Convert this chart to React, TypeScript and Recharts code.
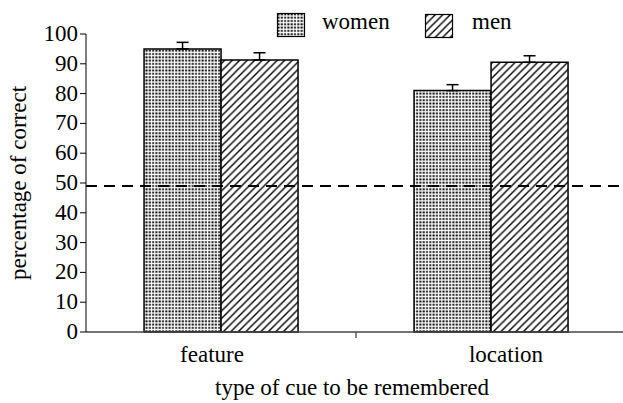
import React from "react";
import { BarChart, Bar, XAxis, YAxis, ErrorBar, ReferenceLine, Legend } from "recharts";

const categories = ["feature", "location"];
const women = [95, 81];
const men = [91.3, 90.5];
const womenErr = [2.2, 2.0];
const menErr = [2.4, 2.2];
const yTicks = [0, 10, 20, 30, 40, 50, 60, 70, 80, 90, 100];
const chanceLevel = 49;
const seriesNames = ["women", "men"];

const data = categories.map((c, i) => ({
  cat: c,
  women: women[i],
  men: men[i],
  wErr: [0, womenErr[i]],
  mErr: [0, menErr[i]],
}));

const FONT = "Liberation Serif, DejaVu Serif, Noto Serif, Times New Roman, Times, serif";
const labelShift: Record<string, number> = { feature: -9, location: 15 };

const Patterns = ({ prefix }: { prefix: string }) => (
  <defs>
    <pattern id={prefix + "dots"} width={3.3} height={3.3} patternUnits="userSpaceOnUse">
      <rect x={0} y={0} width={3.3} height={3.3} fill="#fff" />
      <rect x={0.3} y={0.3} width={2} height={1.8} fill="#000" />
    </pattern>
    <pattern id={prefix + "hatch"} width={7.5} height={7.5} patternUnits="userSpaceOnUse">
      <rect x={0} y={0} width={7.5} height={7.5} fill="#fff" />
      <path d="M-1,8.5 L8.5,-1 M-2,2 L2,-2 M5.5,9.5 L9.5,5.5" stroke="#000" strokeWidth={1.4} />
    </pattern>
  </defs>
);

const XTick = (props: any) => {
  const { x, y, payload, index } = props;
  const off = payload.offset || 0;
  return (
    <g>
      <text
        x={x + (labelShift[payload.value] || 0)}
        y={y + 22}
        textAnchor="middle"
        style={{ fontFamily: FONT, fontSize: 23 }}
        fill="#000"
      >
        {payload.value}
      </text>
      {index === 0 && (
        <line x1={x + off} x2={x + off} y1={332} y2={338} stroke="#444" strokeWidth={1.3} />
      )}
    </g>
  );
};

const YTick = (props: any) => {
  const { x, y, payload } = props;
  return (
    <text x={x} y={y} dy={7} textAnchor="end" style={{ fontFamily: FONT, fontSize: 23 }} fill="#000">
      {payload.value}
    </text>
  );
};

const YLabel = (props: any) => {
  const vb = props.viewBox || {};
  const cx = 18;
  const cy = vb.y + vb.height / 2;
  return (
    <text
      x={cx}
      y={cy}
      transform={`rotate(-90, ${cx}, ${cy})`}
      textAnchor="middle"
      dominantBaseline="central"
      style={{ fontFamily: FONT, fontSize: 23 }}
      fill="#000"
    >
      percentage of correct
    </text>
  );
};

const XLabel = (props: any) => {
  const vb = props.viewBox || {};
  return (
    <text
      x={352}
      y={vb.y + 63}
      textAnchor="middle"
      style={{ fontFamily: FONT, fontSize: 23 }}
      fill="#000"
    >
      type of cue to be remembered
    </text>
  );
};

const LegendSvg = () => (
  <svg width={623} height={45} style={{ display: "block" }}>
    <Patterns prefix="lg" />
    <rect x={277.5} y={13.5} width={27} height={23} fill="url(#lgdots)" stroke="#000" strokeWidth={1.2} />
    <text x={322} y={29} style={{ fontFamily: FONT, fontSize: 23 }} fill="#000">{seriesNames[0]}</text>
    <rect x={425.5} y={14.5} width={27} height={23} fill="url(#lghatch)" stroke="#000" strokeWidth={1.2} />
    <text x={472} y={29} style={{ fontFamily: FONT, fontSize: 23 }} fill="#000">{seriesNames[1]}</text>
  </svg>
);

export default function App() {
  return (
    <div style={{ position: "absolute", left: 0, top: 0, width: 623, height: 403, overflow: "hidden", background: "#fff" }}>
      <BarChart
        width={630}
        height={403}
        data={data}
        margin={{ top: 34, right: 4, left: 0, bottom: 0 }}
        barGap={0}
        barCategoryGap="21.5%"
      >
        <Patterns prefix="c" />
        <Legend
          layout="horizontal"
          verticalAlign="middle"
          align="center"
          wrapperStyle={{ top: 0, left: 0, width: 623, height: 45 }}
          content={() => <LegendSvg />}
        />
        <XAxis
          dataKey="cat"
          height={71}
          tickLine={false}
          axisLine={{ stroke: "#444", strokeWidth: 1.3 }}
          tick={<XTick />}
          interval={0}
          label={<XLabel />}
        />
        <YAxis
          width={86}
          domain={[0, 100]}
          ticks={yTicks}
          interval={0}
          tickSize={6}
          tickLine={{ stroke: "#000" }}
          axisLine={{ stroke: "#000" }}
          tick={<YTick />}
          tickMargin={2}
          label={<YLabel />}
        />
        <Bar dataKey="women" name="women" fill="url(#cdots)" stroke="#000" strokeWidth={1.5} isAnimationActive={false}>
          <ErrorBar dataKey="wErr" width={6} stroke="#000" strokeWidth={1.5} direction="y" />
        </Bar>
        <Bar dataKey="men" name="men" fill="url(#chatch)" stroke="#000" strokeWidth={1.5} isAnimationActive={false}>
          <ErrorBar dataKey="mErr" width={6} stroke="#000" strokeWidth={1.5} direction="y" />
        </Bar>
        <ReferenceLine y={chanceLevel} stroke="#000" strokeWidth={2} strokeDasharray="11 7" />
      </BarChart>
    </div>
  );
}
